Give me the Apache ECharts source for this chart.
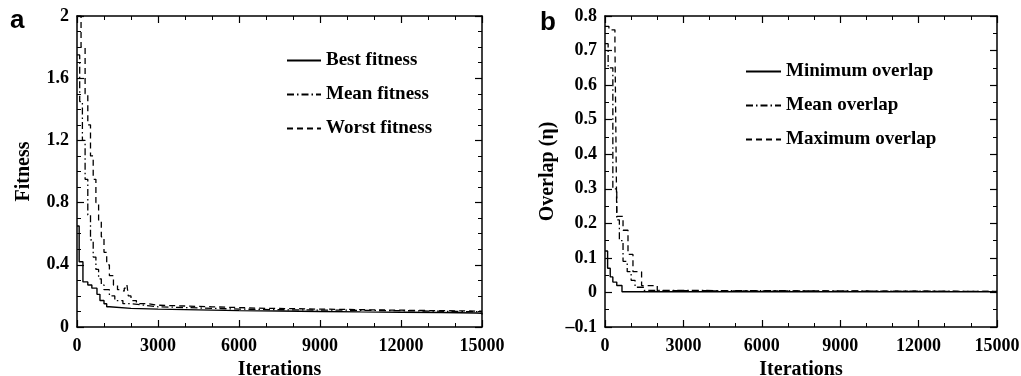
<!DOCTYPE html>
<html><head><meta charset="utf-8">
<script src="https://cdn.jsdelivr.net/npm/echarts@6/dist/echarts.min.js"></script>
<style>html,body{margin:0;padding:0;background:#fff}#c{width:1021px;height:376px}</style>
</head><body><div id="c"></div>
<script>
// Panel a: fitness
var bestX  = [0, 80, 220, 400, 550, 740, 850, 1000, 1100, 1200, 2000, 3000, 4500, 6000, 7500, 9000, 10500, 12000, 13500, 14800, 15000];
var bestY  = [0.65, 0.42, 0.29, 0.27, 0.25, 0.21, 0.17, 0.15, 0.13, 0.12, 0.115, 0.11, 0.105, 0.103, 0.1, 0.097, 0.095, 0.093, 0.09, 0.088, 0.08];
var meanX  = [0, 100, 200, 300, 400, 500, 600, 700, 800, 900, 1000, 1200, 1400, 1700, 2000, 2500, 3000, 4000, 5000, 6000, 8000, 10000, 12000, 14000, 15000];
var meanY  = [1.75, 1.45, 1.2, 0.95, 0.72, 0.56, 0.45, 0.37, 0.31, 0.27, 0.24, 0.2, 0.17, 0.15, 0.14, 0.13, 0.125, 0.12, 0.115, 0.11, 0.108, 0.105, 0.1, 0.098, 0.095];
var worstX = [0, 150, 300, 400, 500, 600, 700, 800, 900, 1000, 1100, 1200, 1350, 1500, 1650, 1750, 1850, 1900, 2000, 2200, 2600, 3000, 4000, 5000, 6000, 7000, 8000, 9000, 10000, 11000, 12000, 13000, 14000, 15000];
var worstY = [2.0, 1.8, 1.5, 1.3, 1.1, 0.95, 0.8, 0.68, 0.58, 0.48, 0.4, 0.33, 0.27, 0.24, 0.23, 0.25, 0.27, 0.2, 0.17, 0.15, 0.14, 0.135, 0.13, 0.125, 0.12, 0.118, 0.115, 0.113, 0.11, 0.108, 0.106, 0.104, 0.102, 0.1];
// Panel b: overlap
var minOX  = [0, 100, 200, 300, 450, 650, 15000];
var minOY  = [0.12, 0.07, 0.045, 0.03, 0.02, 0.002, 0.002];
var meanOX = [0, 120, 300, 450, 550, 690, 850, 1000, 1150, 1500, 2000, 15000];
var meanOY = [0.72, 0.65, 0.3, 0.21, 0.15, 0.09, 0.06, 0.035, 0.015, 0.006, 0.003, 0.002];
var maxOX  = [0, 150, 380, 450, 690, 880, 1070, 1400, 2000, 3000, 15000];
var maxOY  = [0.77, 0.76, 0.72, 0.22, 0.18, 0.11, 0.06, 0.02, 0.005, 0.003, 0.002];

var namesA = ['Best fitness', 'Mean fitness', 'Worst fitness'];
var namesB = ['Minimum overlap', 'Mean overlap', 'Maximum overlap'];

function pairs(xs, ys){ return xs.map(function(x,i){ return [x, ys[i]]; }); }
var FONT = '"Liberation Serif","Times New Roman",serif';
var lab = {fontFamily: FONT, fontWeight: 'bold', fontSize: 18, color: '#000'};
var nameStyle = {fontFamily: FONT, fontWeight: 'bold', fontSize: 20, color:'#000'};

function xAx(gi, pos, show){
  return {type:'value', gridIndex: gi, position: pos, min: 0, max: 15000, interval: 3000,
    axisLine: {show: true, onZero: false, lineStyle: {color:'#000', width: 1.5}},
    axisTick: {show: true, inside: true, length: 7, lineStyle:{color:'#000', width: 1.2}},
    minorTick: {show: true, splitNumber: 3, length: 4, lineStyle:{color:'#000', width: 1}},
    splitLine: {show: false},
    axisLabel: show ? Object.assign({margin: 10, formatter: function(v){ return String(v); }}, lab) : {show: false},
    name: show ? 'Iterations' : '', nameLocation: 'middle', nameGap: 26, nameTextStyle: nameStyle};
}
function yAx(gi, pos, show, min, max, itv, minorN, name, gap){
  return {type:'value', gridIndex: gi, position: pos, min: min, max: max, interval: itv,
    axisLine: {show: true, onZero: false, lineStyle: {color:'#000', width: 1.5}},
    axisTick: {show: true, inside: true, length: 7, lineStyle:{color:'#000', width: 1.2}},
    minorTick: {show: true, splitNumber: minorN, length: 4, lineStyle:{color:'#000', width: 1}},
    splitLine: {show: false},
    axisLabel: show ? Object.assign({margin: 8, formatter: function(v){
        var s = (Math.round(v*10)/10).toString(); return s.replace('-', '\u2013'); }}, lab) : {show: false},
    name: show ? name : '', nameLocation: 'middle', nameGap: gap || 45, nameTextStyle: nameStyle};
}
var styles = [
  {type: 'solid', width: 1.4},
  {type: [7, 3, 1.5, 3], width: 1.3},
  {type: [6, 4], width: 1.3}
];
function ser(name, xi, yi, data, k){
  return {name: name, type: 'line', xAxisIndex: xi, yAxisIndex: yi, data: data, step: 'end',
    symbol: 'none', showSymbol: false, animation: false,
    lineStyle: Object.assign({color: '#000'}, styles[k]), itemStyle: {color: '#000'}};
}
var legText = {fontFamily: FONT, fontWeight: 'bold', fontSize: 19, color: '#000'};
var legItem = {color: 'rgba(0,0,0,0)', borderColor: 'rgba(0,0,0,0)', borderWidth: 0, opacity: 0};

var chart = echarts.init(document.getElementById('c'), null, {renderer: 'canvas'});
chart.setOption({
  animation: false,
  backgroundColor: '#fff',
  grid: [
    {left: 77, top: 16, width: 405, height: 311, outerBoundsMode: 'none', containLabel: false},
    {left: 605, top: 16, width: 392, height: 311, outerBoundsMode: 'none', containLabel: false}
  ],
  xAxis: [xAx(0, 'bottom', true), xAx(0, 'top', false), xAx(1, 'bottom', true), xAx(1, 'top', false)],
  yAxis: [
    yAx(0, 'left', true, 0, 2, 0.4, 4, 'Fitness', 43), yAx(0, 'right', false, 0, 2, 0.4, 4, ''),
    yAx(1, 'left', true, -0.1, 0.8, 0.1, 2, 'Overlap (\u03b7)', 47), yAx(1, 'right', false, -0.1, 0.8, 0.1, 2, '')
  ],
  legend: [
    {data: namesA, orient: 'vertical', left: 281, top: 46, itemWidth: 34, itemHeight: 14, itemGap: 15,
     textStyle: legText, itemStyle: legItem, selectedMode: false},
    {data: namesB, orient: 'vertical', left: 740, top: 57, itemWidth: 35, itemHeight: 14, itemGap: 15,
     textStyle: legText, itemStyle: legItem, selectedMode: false}
  ],
  graphic: [
    {type: 'text', left: 10, top: 8, style: {text: 'a', fontFamily: '"Liberation Sans",Arial,sans-serif', fontWeight: 'bold', fontSize: 26, fill: '#000'}},
    {type: 'text', left: 540, top: 10, style: {text: 'b', fontFamily: '"Liberation Sans",Arial,sans-serif', fontWeight: 'bold', fontSize: 26, fill: '#000'}}
  ],
  series: [
    ser(namesA[0], 0, 0, pairs(bestX, bestY), 0),
    ser(namesA[1], 0, 0, pairs(meanX, meanY), 1),
    ser(namesA[2], 0, 0, pairs(worstX, worstY), 2),
    ser(namesB[0], 2, 2, pairs(minOX, minOY), 0),
    ser(namesB[1], 2, 2, pairs(meanOX, meanOY), 1),
    ser(namesB[2], 2, 2, pairs(maxOX, maxOY), 2)
  ]
});
</script></body></html>
